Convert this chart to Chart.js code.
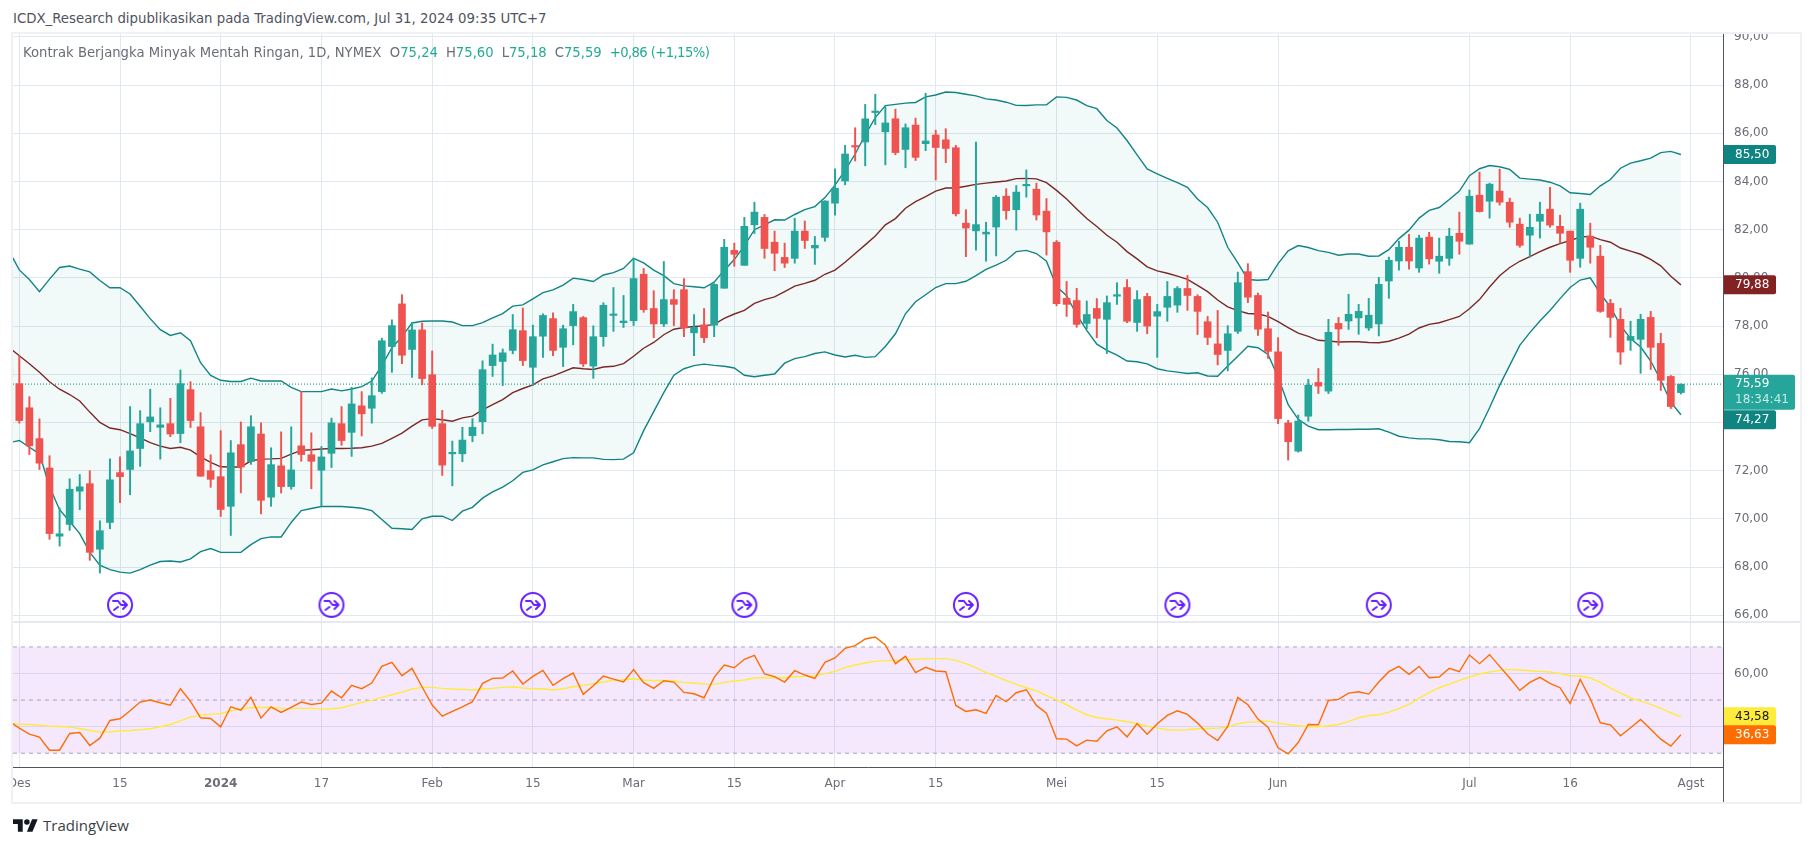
<!DOCTYPE html>
<html>
<head>
<meta charset="utf-8">
<title>Kontrak Berjangka Minyak Mentah Ringan</title>
<script src="https://cdn.jsdelivr.net/npm/chart.js@4/dist/chart.umd.min.js"></script>
<style>
html,body{margin:0;padding:0;background:#fff;}
body{width:1814px;height:846px;position:relative;overflow:hidden;font-family:"DejaVu Sans",sans-serif;}
canvas{position:absolute;display:block;}
#frame{position:absolute;left:11px;top:32px;width:1787px;height:768px;border:2px solid #eff1f5;}
#sep{position:absolute;left:13px;top:621px;width:1787px;height:2px;background:#e6e9f0;}
#head{position:absolute;left:13px;top:11px;font-size:13.3px;color:#50535e;white-space:nowrap;}
#legend{position:absolute;left:23px;top:45px;font-size:13.2px;color:#6a6d78;white-space:nowrap;z-index:5;}
#legend b{font-weight:normal;color:#22ab94;margin-right:8px;}
#legend b.chg{letter-spacing:-.6px;}
#brand{position:absolute;left:13px;top:816px;height:18px;display:flex;align-items:center;font-family:"Open Sans",sans-serif;font-size:15px;color:#3d3f46;}
#brand svg{margin-right:5px;}
</style>
</head>
<body>
<div id="frame"></div>
<div id="sep"></div>
<div id="head">ICDX_Research dipublikasikan pada TradingView.com, Jul 31, 2024 09:35 UTC+7</div>
<div id="legend">Kontrak Berjangka Minyak Mentah Ringan, 1D, NYMEX&nbsp; O<b>75,24</b>H<b>75,60</b>L<b>75,18</b>C<b>75,59</b><b class="chg">+0,86 (+1,15%)</b></div>
<canvas id="priceChart" width="1787" height="588" style="left:13px;top:34px"></canvas>
<canvas id="rsiChart" width="1787" height="180" style="left:13px;top:622px"></canvas>
<div id="brand"><svg width="25" height="13" viewBox="0 4 36 18"><path d="M14 22H7V11H0V4h14v18zM28 22h-8l7.5-18h8L28 22z" fill="#131722"/><circle cx="20" cy="8" r="4" fill="#131722"/></svg>TradingView</div>

<script>
// first bar is 30 Nov, it sits just left of the visible pane
const opens=[76.3,
75.61,74.61,73.33,72.11,69.28,69.77,71.15,71.46,68.74,69.85,
71.92,72.05,72.92,74.03,73.8,73.95,73.54,75.36,73.82,72.0,
71.75,70.52,73.08,72.38,73.52,70.9,72.2,71.34,73.03,72.66,
72.02,72.72,73.95,73.59,74.69,74.59,75.28,77.15,78.92,77.03,
77.84,75.98,73.95,72.70,72.7,73.45,74.03,76.36,76.53,76.99,
77.81,76.29,77.58,78.31,77.12,78.02,78.35,76.34,77.56,78.44,
78.14,78.22,80.15,78.73,78.09,79.1,79.51,77.72,78.05,78.04,
79.57,81.14,80.52,82.2,82.51,81.48,80.85,80.81,81.94,81.24,
81.68,83.1,84.02,85.48,85.64,86.86,86.06,86.6,85.33,86.34,
85.57,85.93,85.73,85.4,82.27,81.95,81.82,82.11,83.39,82.83,
83.82,83.68,82.77,81.48,79.15,79.06,78.11,78.73,78.28,79.24,
79.6,78.15,79.23,78.41,78.78,78.87,79.56,79.23,78.18,77.26,
76.99,77.78,80.26,79.27,77.89,76.93,73.98,72.81,74.26,75.66,
75.3,78.11,78.21,78.34,77.92,78.09,79.87,80.7,81.27,80.41,
81.69,80.69,80.81,81.85,81.4,83.43,83.18,83.6,83.14,82.23,
81.77,82.35,82.85,82.14,81.94,80.81,81.73,80.9,78.94,78.28,
77.41,77.45,78.36,77.28,75.91,75.24];
const closes=[75.9,
74.08,73.03,72.31,69.39,69.38,71.23,71.33,68.61,69.51,71.62,
71.75,72.82,73.95,74.23,73.9,73.52,75.61,74.08,71.77,71.64,
70.39,72.74,72.15,73.82,70.77,72.25,71.34,72.03,72.67,72.39,
72.57,73.98,73.25,74.77,74.36,75.11,77.39,78.02,76.79,77.84,
75.82,73.84,72.23,72.73,73.27,73.8,76.19,76.8,76.89,77.85,
76.57,77.56,78.44,76.99,77.89,78.6,76.43,77.56,78.86,78.5,
78.21,79.97,78.68,78.09,79.1,78.9,77.92,77.95,77.52,79.73,
81.27,80.98,82.14,82.73,81.22,81.02,80.61,81.94,81.55,81.35,
83.19,83.72,85.14,85.43,86.6,86.92,86.43,85.2,86.23,85.0,
85.68,85.41,85.37,82.66,82.07,82.21,81.9,83.35,82.79,83.56,
83.85,82.61,81.91,78.93,78.9,78.07,78.48,78.32,78.97,79.27,
78.2,79.1,78.0,78.6,79.23,79.56,79.27,78.61,77.53,76.82,
77.68,79.8,79.2,77.87,76.95,74.16,73.2,74.06,75.54,75.51,
77.74,77.88,78.49,78.61,78.45,79.73,80.73,81.27,80.7,81.65,
80.79,80.9,81.73,81.52,83.39,82.75,83.89,83.14,82.31,81.35,
82.1,82.64,82.19,81.85,80.73,82.85,81.27,78.61,78.36,76.92,
77.57,78.28,77.12,75.75,74.66,75.59];
const highs=[77.2,
76.77,75.07,74.15,72.62,70.46,71.66,71.84,72.0,69.92,72.49,
72.57,74.66,74.49,75.38,74.61,75.0,76.18,75.69,74.41,72.66,
73.66,73.25,74.02,74.28,73.98,72.95,73.61,73.82,75.28,73.57,
73.0,74.18,74.66,75.46,75.28,75.85,77.5,78.26,79.3,78.16,
78.13,76.97,74.5,73.23,73.8,74.16,76.56,77.25,77.05,78.48,
78.75,78.04,78.51,78.55,78.04,78.9,78.4,78.01,78.97,79.6,
79.27,80.82,80.39,79.47,80.68,79.51,79.97,78.48,78.73,79.76,
81.6,81.44,82.51,83.14,82.63,81.94,81.44,82.47,82.36,81.72,
83.2,84.52,85.5,86.23,87.2,87.62,87.1,87.0,86.39,86.63,
87.66,86.13,86.19,85.5,82.83,85.63,82.31,83.42,83.7,83.83,
84.48,83.93,83.29,81.55,79.85,79.57,79.04,79.14,79.25,79.8,
79.93,79.47,79.36,78.9,79.85,79.64,80.1,79.3,78.4,78.65,
78.02,80.24,80.59,79.37,78.58,77.52,74.09,74.31,75.79,76.24,
78.28,78.36,79.32,78.9,79.15,80.02,80.86,81.52,81.81,81.77,
81.89,81.65,82.06,82.73,83.64,84.39,83.93,84.51,83.31,82.48,
82.64,83.14,83.76,82.6,81.94,83.1,82.27,81.35,79.11,78.74,
78.2,78.49,78.61,77.7,75.95,75.6];
const lows=[75.6,
73.97,72.67,72.05,69.15,68.87,69.52,70.38,68.28,67.75,69.59,
70.67,71.0,72.18,73.62,72.48,73.41,73.16,73.79,71.77,71.31,
70.1,69.31,71.08,72.26,70.2,70.52,71.07,71.23,72.39,71.25,
70.54,72.13,73.05,72.59,73.44,73.97,75.21,76.08,76.44,75.87,
75.56,73.75,71.8,71.37,72.37,73.2,73.53,75.91,75.53,76.85,
76.36,75.53,76.7,76.77,76.32,77.22,76.32,75.83,77.16,77.78,
77.94,78.02,78.57,77.52,77.98,78.02,77.56,76.77,77.31,77.56,
79.57,80.48,80.52,81.84,80.81,80.3,80.43,80.61,81.22,80.56,
81.52,82.6,83.86,84.85,84.65,86.36,84.69,85.11,84.57,84.87,
85.28,84.06,84.78,82.57,80.88,81.15,80.69,80.91,82.43,81.98,
83.35,82.4,80.95,78.84,78.4,77.95,77.89,77.52,76.86,78.9,
78.14,77.78,77.68,76.7,78.2,78.57,78.65,77.65,77.23,76.39,
76.14,77.69,78.97,77.61,76.66,73.95,72.44,72.77,74.05,75.2,
75.2,77.2,77.86,77.66,77.82,77.59,79.15,80.32,80.36,80.23,
80.57,80.19,80.52,80.98,81.4,82.73,82.48,83.02,82.1,81.27,
80.86,81.65,82.1,81.44,80.23,80.44,80.61,78.57,77.53,76.41,
76.99,76.04,76.2,75.33,74.58,75.18];

// bollinger bands
const bbUpper=[81.1,80.33,79.93,79.43,79.95,80.43,80.49,80.36,80.25,79.89,79.59,79.59,79.33,78.82,78.31,77.85,77.61,77.72,77.39,76.48,75.95,75.75,75.7,75.7,75.84,75.72,75.72,75.72,75.46,75.28,75.28,75.28,75.39,75.31,75.39,75.49,75.72,76.36,77.1,77.56,78.13,78.2,78.21,78.21,
78.17,78.02,78.02,78.14,78.34,78.52,78.83,78.88,79.13,79.39,79.5,79.7,79.99,79.93,79.85,80.12,80.22,80.39,80.81,80.62,80.32,80.09,79.76,79.67,79.63,79.59,79.82,80.32,80.76,81.34,82.0,82.2,82.41,82.4,82.63,82.83,82.96,83.33,83.85,84.46,85.14,85.93,86.65,
87.15,87.2,87.25,87.28,87.51,87.59,87.71,87.69,87.62,87.55,87.43,87.38,87.29,87.16,87.15,87.18,87.18,87.51,87.49,87.38,87.15,87.02,86.53,86.22,85.7,85.1,84.52,84.32,84.13,83.95,83.76,83.27,82.92,82.31,81.27,80.62,79.93,79.9,79.93,80.59,81.12,81.34,81.26,
81.13,81.06,80.94,80.99,80.99,80.9,80.91,81.17,81.63,81.98,82.48,82.8,82.92,83.25,83.6,84.24,84.53,84.66,84.61,84.5,84.14,84.1,84.06,83.97,83.82,83.53,83.5,83.46,83.82,84.08,84.55,84.76,84.86,84.97,85.2,85.25,85.12];
const bbBasis=[77.11,76.77,76.44,76.08,75.69,75.38,75.16,74.89,74.43,74.0,73.77,73.7,73.54,73.36,73.16,73.02,72.92,72.97,72.85,72.57,72.34,72.16,72.15,72.15,72.41,72.48,72.49,72.51,72.69,72.84,72.87,72.9,72.92,72.92,72.93,72.95,73.02,73.13,73.34,73.56,73.85,74.11,74.16,74.11,
74.05,74.19,74.26,74.52,74.74,74.95,75.24,75.41,75.56,75.81,75.93,76.1,76.27,76.23,76.2,76.3,76.33,76.44,76.75,77.08,77.32,77.64,77.87,77.94,77.98,78.01,78.07,78.32,78.5,78.65,78.94,79.1,79.21,79.43,79.66,79.77,79.9,80.15,80.32,80.65,81.01,81.37,81.74,
82.2,82.46,82.89,83.16,83.37,83.6,83.73,83.73,83.8,83.88,83.93,83.98,84.02,84.12,84.13,84.11,83.95,83.63,83.27,82.86,82.46,82.13,81.77,81.48,81.09,80.79,80.46,80.29,80.19,80.07,79.94,79.69,79.43,79.08,78.8,78.64,78.52,78.5,78.4,78.18,77.94,77.71,77.57,
77.41,77.38,77.34,77.35,77.35,77.32,77.31,77.37,77.5,77.67,77.92,78.07,78.14,78.27,78.4,78.72,79.1,79.62,80.09,80.43,80.69,80.88,81.09,81.27,81.42,81.55,81.69,81.73,81.59,81.48,81.24,81.11,80.98,80.77,80.5,80.07,79.71];
const bbLower=[73.16,73.25,72.97,72.7,71.33,70.38,69.89,69.39,68.61,68.08,67.89,67.79,67.75,67.89,68.08,68.23,68.25,68.21,68.34,68.64,68.77,68.61,68.61,68.61,68.93,69.18,69.25,69.25,69.85,70.34,70.43,70.51,70.51,70.51,70.48,70.44,70.34,69.97,69.61,69.59,69.56,70.0,70.11,70.11,
69.93,70.32,70.48,70.86,71.12,71.32,71.58,71.93,72.03,72.24,72.37,72.5,72.54,72.53,72.53,72.47,72.46,72.48,72.74,73.66,74.45,75.24,75.96,76.23,76.36,76.42,76.37,76.33,76.26,75.96,75.9,75.96,76.01,76.46,76.65,76.73,76.86,76.93,76.8,76.72,76.79,76.7,76.73,
77.15,77.68,78.51,79.01,79.3,79.6,79.76,79.76,79.86,80.09,80.35,80.53,80.73,81.09,81.14,81.01,80.69,79.64,79.26,78.47,77.82,77.25,76.99,76.79,76.55,76.52,76.43,76.23,76.14,76.09,76.03,76.06,75.93,75.92,76.34,76.75,77.16,77.1,76.82,75.89,74.74,74.13,73.85,
73.7,73.7,73.71,73.71,73.72,73.72,73.74,73.6,73.43,73.36,73.32,73.32,73.28,73.21,73.2,73.16,73.74,74.61,75.54,76.37,77.2,77.73,78.21,78.65,79.14,79.6,79.91,80.0,79.35,78.79,78.03,77.48,77.13,76.55,75.75,74.84,74.32];

const rsiValues=[42,39.43,37.17,36.04,31.13,31.13,37.42,37.8,32.89,35.66,42.33,42.96,45.97,49.25,50,48.99,48.11,54.28,49.5,43.33,43.08,39.94,47.48,46.23,51,43.21,47.48,45.35,47.23,49.25,48.36,48.87,53.4,50.88,55.53,54.28,56.42,62.7,64.21,59.18,61.95,54.91,48.11,43.96,45.72,47.48,49.37,56.29,58.18,58.3,60.94,56.04,58.93,61.19,55.53,58.05,60.19,52.14,55.41,59.06,57.9,
56.79,61.45,56.54,54.4,57.3,56.79,52.89,52.39,50.88,58.55,63.2,62.2,65.35,66.86,59.81,58.81,56.79,61.07,59.43,58.18,64.21,65.85,69.5,70.5,73.02,73.77,70.75,63.71,66.48,60.31,62.33,60.94,60.69,47.99,45.72,46.35,44.97,51.76,49.37,52.77,53.9,47.99,45.1,35.41,35.28,32.77,34.91,34.53,38.43,39.94,36.16,41.19,37.17,41.07,44.21,45.97,44.59,41.32,37.3,
34.78,40.06,51,48.24,42.83,39.81,32.01,29.75,34.03,40.82,40.69,49.87,50.25,52.64,53.14,52.26,56.79,60.69,62.7,59.69,62.7,58.43,58.68,61.95,60.69,66.98,63.71,67.11,62.7,58.3,53.65,56.67,58.55,56.29,54.65,48.74,57.8,50.5,41.45,40.69,36.54,39.56,42.7,39.06,35.28,32.64,36.92];
const rsiAverage=[41.2,40.94,40.82,40.57,40.19,40.06,39.81,39.31,38.55,37.92,38.05,38.43,38.55,38.81,39.18,39.94,40.82,42.2,43.58,44.34,44.72,44.84,45.97,46.6,47.11,47.23,47.23,46.98,46.86,46.86,46.86,46.6,46.73,47.11,48.11,49.12,49.87,51,52.01,53.02,54.15,54.78,54.78,54.4,54.15,54.03,53.77,54.15,54.4,54.78,55.03,54.53,54.28,54.28,53.77,54.28,55.03,55.53,56.16,56.79,57.42,
57.67,57.92,57.55,57.3,57.42,57.17,56.67,56.42,56.04,55.91,56.67,57.17,57.55,58.3,58.43,58.43,58.43,58.81,58.93,59.18,59.94,60.82,62.33,63.21,63.96,64.59,64.84,64.84,65.22,65.35,65.6,65.6,65.6,64.97,63.71,62.2,60.31,58.93,57.3,55.91,54.65,53.52,51.64,50.13,48.24,46.35,44.47,43.46,42.96,42.45,41.82,41.19,40.19,39.43,38.81,38.68,38.81,39.18,39.31,
39.43,39.81,41.07,41.7,41.82,42.08,41.32,40.82,40.31,40.06,39.94,40.31,40.82,41.95,43.33,44.21,44.47,45.47,46.86,48.36,50.75,52.77,54.65,56.04,57.42,58.68,59.81,60.57,61.19,61.57,61.32,61.07,60.82,60.57,59.94,59.18,59.06,58.3,56.67,54.53,52.64,50.88,49.62,48.36,46.86,45.22,43.71];

const priceTicks=[66,68,70,72,74,76,78,80,82,84,86,88,90];
const rsiTicks=[40,60];
const rsiLevels=[70,50,30];
const tickIndex=[1,11,21,31,42,52,62,72,82,92,104,114,126,145,155,167];
const tickLabels=['Des','15','2024','17','Feb','15','Mar','15','Apr','15','Mei','15','Jun','Jul','16','Agst'];
const rollBars=[11,32,52,73,95,116,136,157];
const rollLevel=66.43;
const lastPrice=75.59;

const xMin=0.374,xMax=170.18;
const GREEN='#26a69a',RED='#ef5350',GRID='#e0e8f0',AXIS='#50535e',TEAL='#138484';
const FONT='"DejaVu Sans",sans-serif';
const fmt=v=>v.toFixed(2).replace('.',',');
const pts=a=>a.map((v,i)=>({x:i,y:v}));
const colors=opens.map((o,i)=>closes[i]>=o?GREEN:RED);

// little purple circle with the merge arrow
function rollIcon(){
  const c=document.createElement('canvas');c.width=28;c.height=28;
  const g=c.getContext('2d');
  g.strokeStyle='#651fff';g.lineWidth=2;g.lineCap='round';g.lineJoin='round';
  g.beginPath();g.arc(14,14,12,0,Math.PI*2);g.stroke();
  g.beginPath();g.moveTo(7,10);g.lineTo(12,10);g.lineTo(15,14);g.lineTo(21,14);
  g.moveTo(8,19);g.lineTo(12,16);
  g.moveTo(17,10);g.lineTo(21,14);g.lineTo(17,18);g.stroke();
  return c;
}

function tag(ctx,x,yc,w,h,bg,fg,text,sub){
  ctx.save();
  ctx.fillStyle=bg;
  ctx.beginPath();ctx.roundRect(x,yc-h/2,w,h,[0,2,2,0]);ctx.fill();
  ctx.fillStyle=fg;ctx.font='12px '+FONT;ctx.textBaseline='middle';ctx.textAlign='left';
  if(sub){
    ctx.fillText(text,x+11,yc-8);
    ctx.globalAlpha=.75;
    ctx.fillText(sub,x+11,yc+8);
  }else ctx.fillText(text,x+11,yc+.5);
  ctx.restore();
}
// labels may hang over the pane edge, as on the original, so no padding for them
function noPad(s){s.paddingLeft=s.paddingRight=s.paddingTop=s.paddingBottom=0;}

const xScale=(showLabels)=>({
  type:'linear',min:xMin,max:xMax,offset:false,
  afterBuildTicks:s=>{s.ticks=tickIndex.map(v=>({value:v}));},
  afterFit:s=>{s.height=showLabels?35:0;noPad(s);},
  grid:{color:GRID,drawTicks:false,offset:false},
  border:{display:showLabels,color:AXIS},
  ticks:{
    display:showLabels,autoSkip:false,maxRotation:0,padding:10,color:'#6a6d78',
    font:c=>({family:FONT,size:12,weight:c.tick&&c.tick.value===21?'bold':'normal'}),
    callback:v=>tickLabels[tickIndex.indexOf(v)]
  }
});
const yScale=(min,max,ticks,labels)=>({
  position:'right',min:min,max:max,
  afterBuildTicks:s=>{s.ticks=ticks.map(v=>({value:v}));},
  afterFit:s=>{s.width=77;noPad(s);},
  grid:{color:GRID,drawTicks:false},
  border:{color:AXIS},
  ticks:{color:'#6a6d78',padding:11,crossAlign:'near',font:{family:FONT,size:12},callback:labels}
});
const line=(label,values,color,extra)=>Object.assign({type:'line',label:label,data:pts(values),borderColor:color,borderWidth:1.4,pointRadius:0,tension:0,fill:false,order:5},extra||{});

new Chart(document.getElementById('priceChart'),{
  type:'bar',
  data:{datasets:[
    {label:'body',data:opens.map((o,i)=>({x:i,y:[o,closes[i]]})),backgroundColor:colors,barThickness:7,grouped:false,minBarLength:1.5,order:1},
    {label:'wick',data:lows.map((l,i)=>({x:i,y:[l,highs[i]]})),backgroundColor:colors,barThickness:1.3,grouped:false,order:2},
    line('upper',bbUpper,TEAL,{fill:{target:4},backgroundColor:'rgba(8,130,130,.05)'}),
    line('basis',bbBasis,'#802424'),
    line('lower',bbLower,TEAL),
    line('last',[],GREEN,{data:[{x:xMin,y:lastPrice},{x:xMax,y:lastPrice}],borderWidth:1.3,borderDash:[1,2],order:3}),
    {type:'line',label:'roll',data:rollBars.map(i=>({x:i,y:rollLevel})),showLine:false,pointStyle:rollIcon(),pointRadius:14,order:0}
  ]},
  options:{
    responsive:false,animation:false,
    layout:{autoPadding:false},
    plugins:{legend:{display:false},tooltip:{enabled:false}},
    scales:{x:xScale(false),y:yScale(65.72,90.12,priceTicks,v=>fmt(v))}
  },
  plugins:[{id:'priceTags',afterDraw(c){
    const y=c.scales.y,x=c.chartArea.right+1,ctx=c.ctx;
    tag(ctx,x,y.getPixelForValue(bbUpper[166]),52,19,'#0f8481','#fff','85,50');
    tag(ctx,x,y.getPixelForValue(bbBasis[166]),52,19,'#832222','#fff','79,88');
    tag(ctx,x,y.getPixelForValue(bbLower[166])+5,52,19,'#0f8481','#fff','74,27');
    tag(ctx,x,y.getPixelForValue(lastPrice)+8,71,35,GREEN,'#fff','75,59','18:34:41');
  }}]
});

new Chart(document.getElementById('rsiChart'),{
  type:'line',
  data:{datasets:[
    {label:'band',data:[{x:xMin,y:rsiLevels[0]},{x:xMax,y:rsiLevels[0]}],borderColor:'#aeaab6',borderWidth:1,borderDash:[4,4],pointRadius:0,fill:{target:2},backgroundColor:'rgba(165,45,240,.11)',order:6},
    {label:'mid',data:[{x:xMin,y:rsiLevels[1]},{x:xMax,y:rsiLevels[1]}],borderColor:'#aeaab6',borderWidth:1,borderDash:[4,4],pointRadius:0,order:6},
    {label:'low',data:[{x:xMin,y:rsiLevels[2]},{x:xMax,y:rsiLevels[2]}],borderColor:'#aeaab6',borderWidth:1,borderDash:[4,4],pointRadius:0,order:6},
    line('rsi ma',rsiAverage,'#ffeb3b',{order:2}),
    line('rsi',rsiValues,'#ff6d00',{order:1})
  ]},
  options:{
    responsive:false,animation:false,
    layout:{autoPadding:false},
    plugins:{legend:{display:false},tooltip:{enabled:false}},
    scales:{x:xScale(true),y:yScale(24.8,79.4,rsiTicks,v=>fmt(v))}
  },
  plugins:[{id:'rsiTags',afterDraw(c){
    const y=c.scales.y,x=c.chartArea.right+1,ctx=c.ctx;
    tag(ctx,x,y.getPixelForValue(rsiAverage[166]),52,19,'#ffeb3b','#131722','43,58');
    tag(ctx,x,y.getPixelForValue(rsiValues[166]),52,19,'#ff6d00','#fff','36,63');
    // axis line runs down through the date strip
    ctx.save();ctx.strokeStyle=AXIS;ctx.beginPath();ctx.moveTo(c.chartArea.right+.5,0);ctx.lineTo(c.chartArea.right+.5,c.height);ctx.stroke();ctx.restore();
  }}]
});
</script>
</body>
</html>
